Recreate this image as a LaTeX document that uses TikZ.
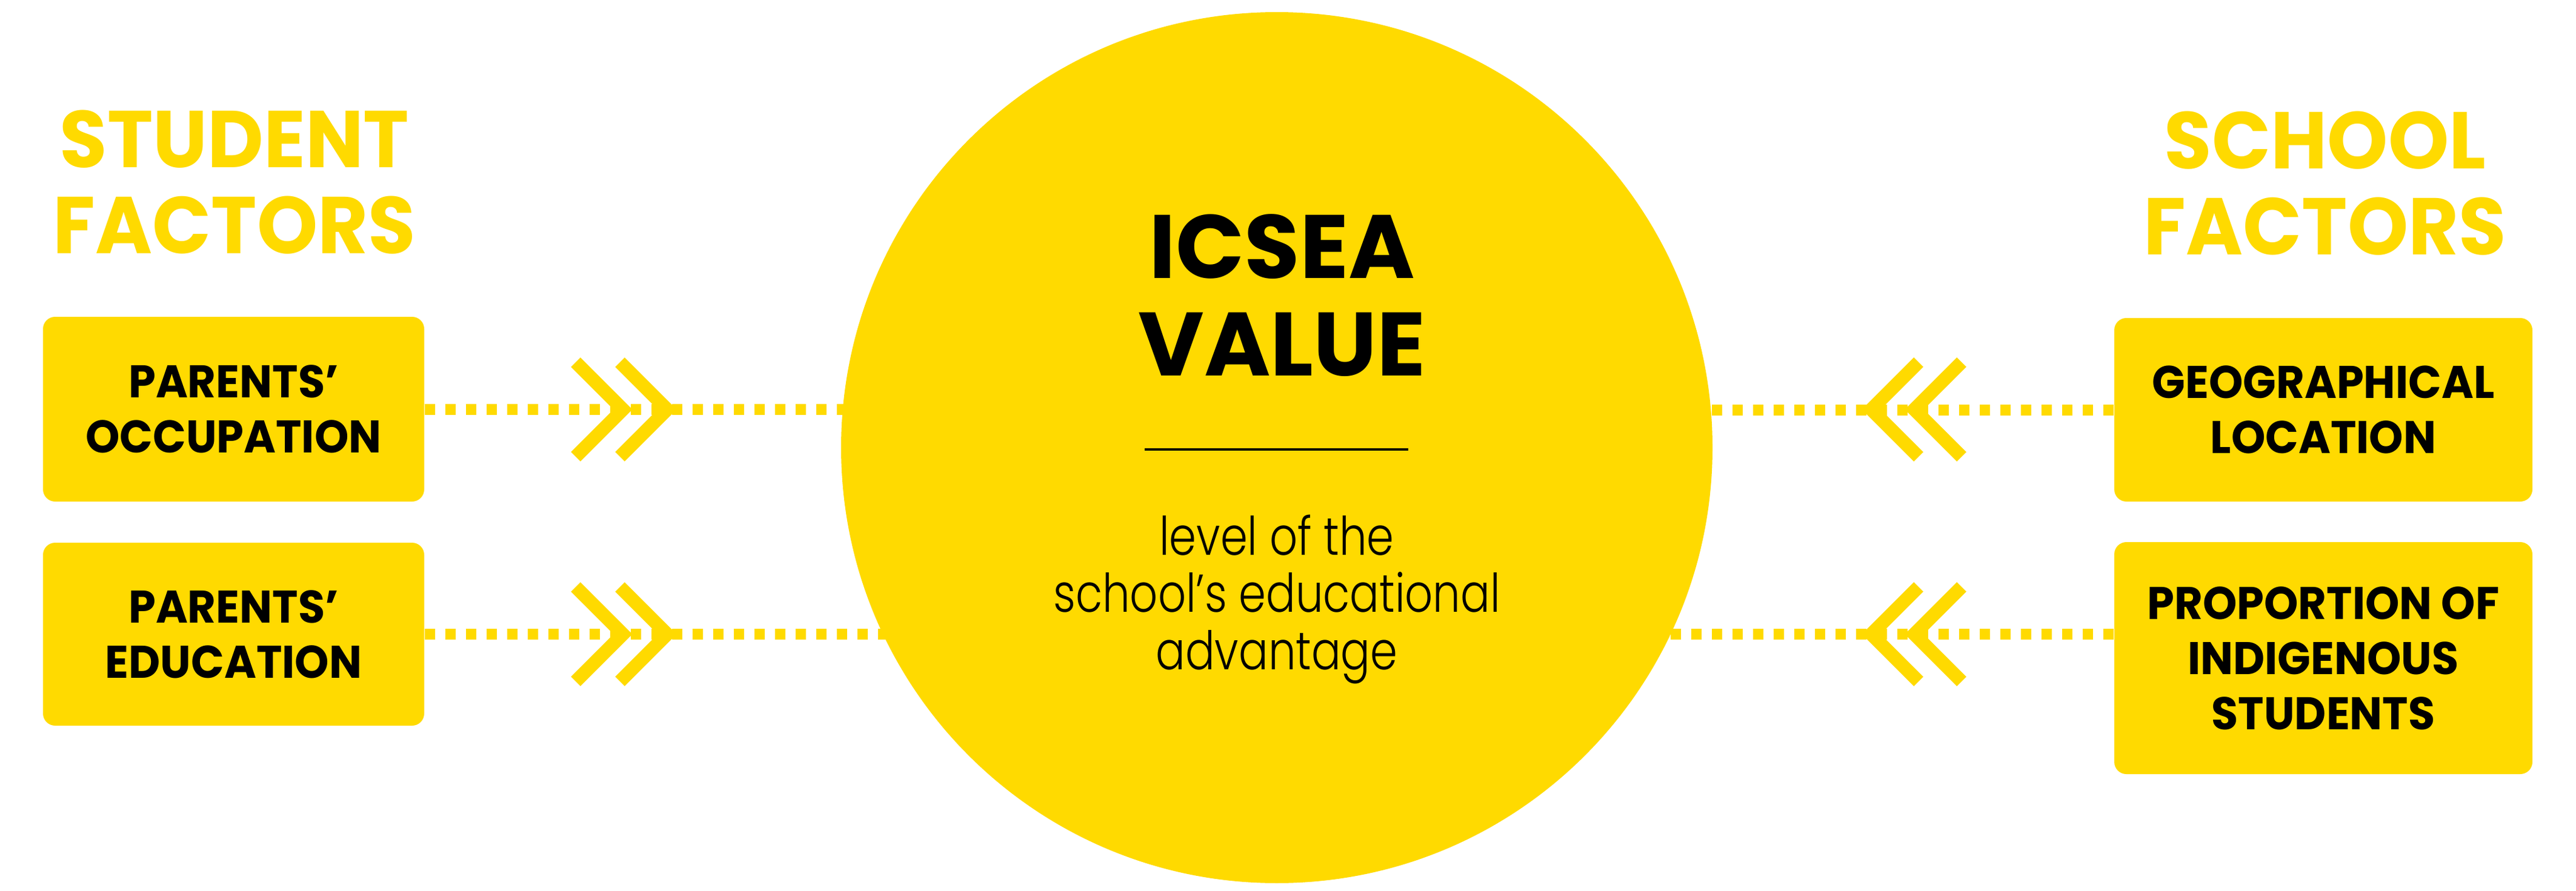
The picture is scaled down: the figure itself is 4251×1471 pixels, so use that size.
\documentclass[tikz,border=0pt]{standalone}
\usepackage{fontspec}
\setmainfont{Poppins}
\newfontfamily\boxfont{Poppins}[FakeStretch=0.95]
\newfontfamily\headfont{Poppins}[FakeStretch=0.96]
\IfFontExistsTF{Poppins Light}{\newfontfamily\lightfont{Poppins Light}[FakeStretch=0.82]}{\newfontfamily\lightfont{Poppins}[FakeStretch=0.82]}
\usetikzlibrary{positioning, backgrounds}

\definecolor{icseayellow}{HTML}{FFDA00}

\tikzset{
  factorbox/.style={fill=icseayellow, rounded corners=2mm, inner sep=0pt, align=center,
    font=\boxfont\fontsize{21.5}{25.9}\selectfont\bfseries},
  heading/.style={text=icseayellow, inner sep=0pt, align=center,
    font=\headfont\fontsize{37.8}{40.4}\selectfont\bfseries},
  dotline/.style={draw=icseayellow, line width=1.8mm, dash pattern=on 1.7mm off 1.7mm},
  chevron/.style={draw=icseayellow, line width=2.2mm, miter limit=4}
}

\begin{document}
\begin{tikzpicture}[x=0.1mm, y=-0.1mm]
    \useasboundingbox (0,0) rectangle (4251,1471);

    % Circle
    \node (icsea) [circle, fill=icseayellow, minimum size=143.8mm, inner sep=0pt] at (2107,739) {};
    \node (title) [inner sep=0pt, align=center, font=\fontsize{42.3}{45.8}\selectfont\bfseries] at (2116,488) {ICSEA\\VALUE};
    \coordinate (ruleL) at (1889,742);
    \coordinate (ruleR) at (2324,742);
    \draw[line width=0.4mm] (ruleL) -- (ruleR);
    \node (desc) [anchor=north, inner sep=0pt, align=center, font=\lightfont\fontsize{25}{26.9}\selectfont] at (2107,849) {level of the\\school’s educational\\advantage};

    % Headings
    \node (student) [heading] at (387,301) {STUDENT\\FACTORS};
    \node (school) [heading] at (3837,303) {SCHOOL\\FACTORS};

    % Boxes
    \node (occ) [factorbox, minimum width=62.9mm, minimum height=30.5mm] at (385.5,675.5) {PARENTS’\\OCCUPATION};
    \node (edu) [factorbox, minimum width=62.9mm, minimum height=30.2mm] at (385.5,1047) {PARENTS’\\EDUCATION};
    \node (geo) [factorbox, minimum width=69mm, minimum height=30.3mm] at (3834,676.5) {GEOGRAPHICAL\\LOCATION};
    \node (prop) [factorbox, minimum width=69mm, minimum height=38.3mm] at (3834,1086.5) {PROPORTION OF\\INDIGENOUS\\STUDENTS};

    % Dotted lines
    \begin{scope}[on background layer]
      \draw[dotline] (occ.east) -- (occ.east -| icsea.center);
      \draw[dotline] (edu.east) -- (edu.east -| icsea.center);
      \draw[dotline] (geo.west) -- (geo.west -| icsea.center);
      \draw[dotline] (edu.east -| prop.west) -- (edu.east -| icsea.center);
    \end{scope}

    % Chevrons
    \foreach \y in {676,1047} {
      \foreach \t in {1028,1101}
        \draw[chevron] (\t,\y) ++(-78,-78) -- ++(78,78) -- ++(-78,78);
      \foreach \t in {3088,3159}
        \draw[chevron] (\t,\y) ++(78,-78) -- ++(-78,78) -- ++(78,78);
    }

\end{tikzpicture}
\end{document}
